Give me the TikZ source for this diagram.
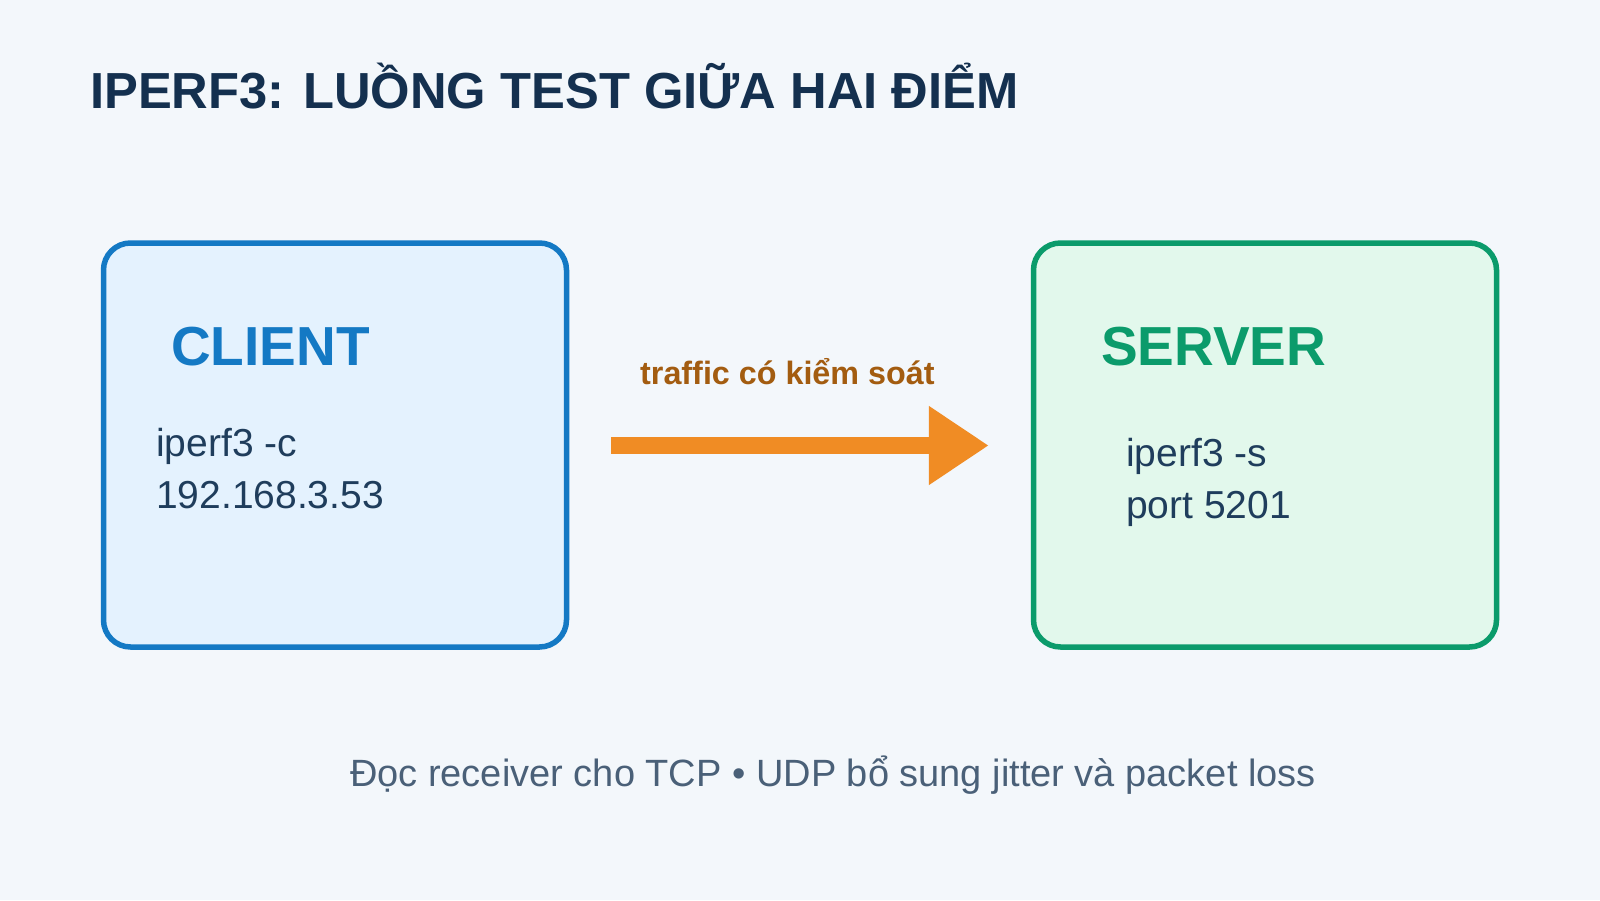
\documentclass[tikz,border=0pt]{standalone}
\usepackage{fontspec}
\setmainfont{Liberation Sans}
\usetikzlibrary{arrows.meta}
\definecolor{bgc}{HTML}{F3F7FB}
\definecolor{titlec}{HTML}{14304F}
\definecolor{bodyc}{HTML}{1F3D5C}
\definecolor{cblue}{HTML}{1479C4}
\definecolor{cfill}{HTML}{E4F2FE}
\definecolor{sgreen}{HTML}{0B9B6B}
\definecolor{sfill}{HTML}{E2F8EC}
\definecolor{labc}{HTML}{A35C10}
\definecolor{arrc}{HTML}{F08C24}
\definecolor{footc}{HTML}{4A6078}
\begin{document}
\begin{tikzpicture}[x=1pt,y=-1pt,
  box/.style={draw, line width=5.5pt, rounded corners=27pt, minimum width=463pt, minimum height=404pt, inner sep=0pt},
  heading/.style={anchor=base west, inner sep=0pt, font=\bfseries\fontsize{55}{64}\selectfont},
  body/.style={anchor=base west, inner sep=0pt, text=bodyc, font=\fontsize{39}{46}\selectfont},
  flow/.style={draw=arrc, line width=17pt, -{Triangle[length=60pt,width=75pt]}}
]
\fill[bgc] (0,0) rectangle (1600,900);
\useasboundingbox (0,0) rectangle (1600,900);
\node[anchor=base west, inner sep=0pt, text=titlec, font=\bfseries\fontsize{50.7}{60}\selectfont] (title) at (90,108) {IPERF3: LUỒNG TEST GIỮA HAI ĐIỂM};
\node[box, draw=cblue, fill=cfill] (client) at (335,445) {};
\node[box, draw=sgreen, fill=sfill] (server) at (1265,445) {};
\node[heading, text=cblue] (clienth) at (171,365) {CLIENT};
\node[heading, text=sgreen] (serverh) at (1101,365) {SERVER};
\node[body] (c1) at (156,456) {iperf3 -c};
\node[body] (c2) at (156,508) {192.168.3.53};
\node[body] (s1) at (1126,466) {iperf3 -s};
\node[body] (s2) at (1126,518) {port 5201};
\draw[flow] ([xshift=42pt,yshift=-0.5pt]client.east) -- ([xshift=-42pt,yshift=-0.5pt]server.west);
\node[anchor=base west, inner sep=0pt, text=labc, font=\bfseries\fontsize{32.3}{38}\selectfont] (lab) at (640,384) {traffic có kiểm soát};
\node[anchor=base, inner sep=0pt, text=footc, font=\fontsize{38}{46}\selectfont] (foot) at (833,786) {Đọc receiver cho TCP • UDP bổ sung jitter và packet loss};
\end{tikzpicture}
\end{document}
